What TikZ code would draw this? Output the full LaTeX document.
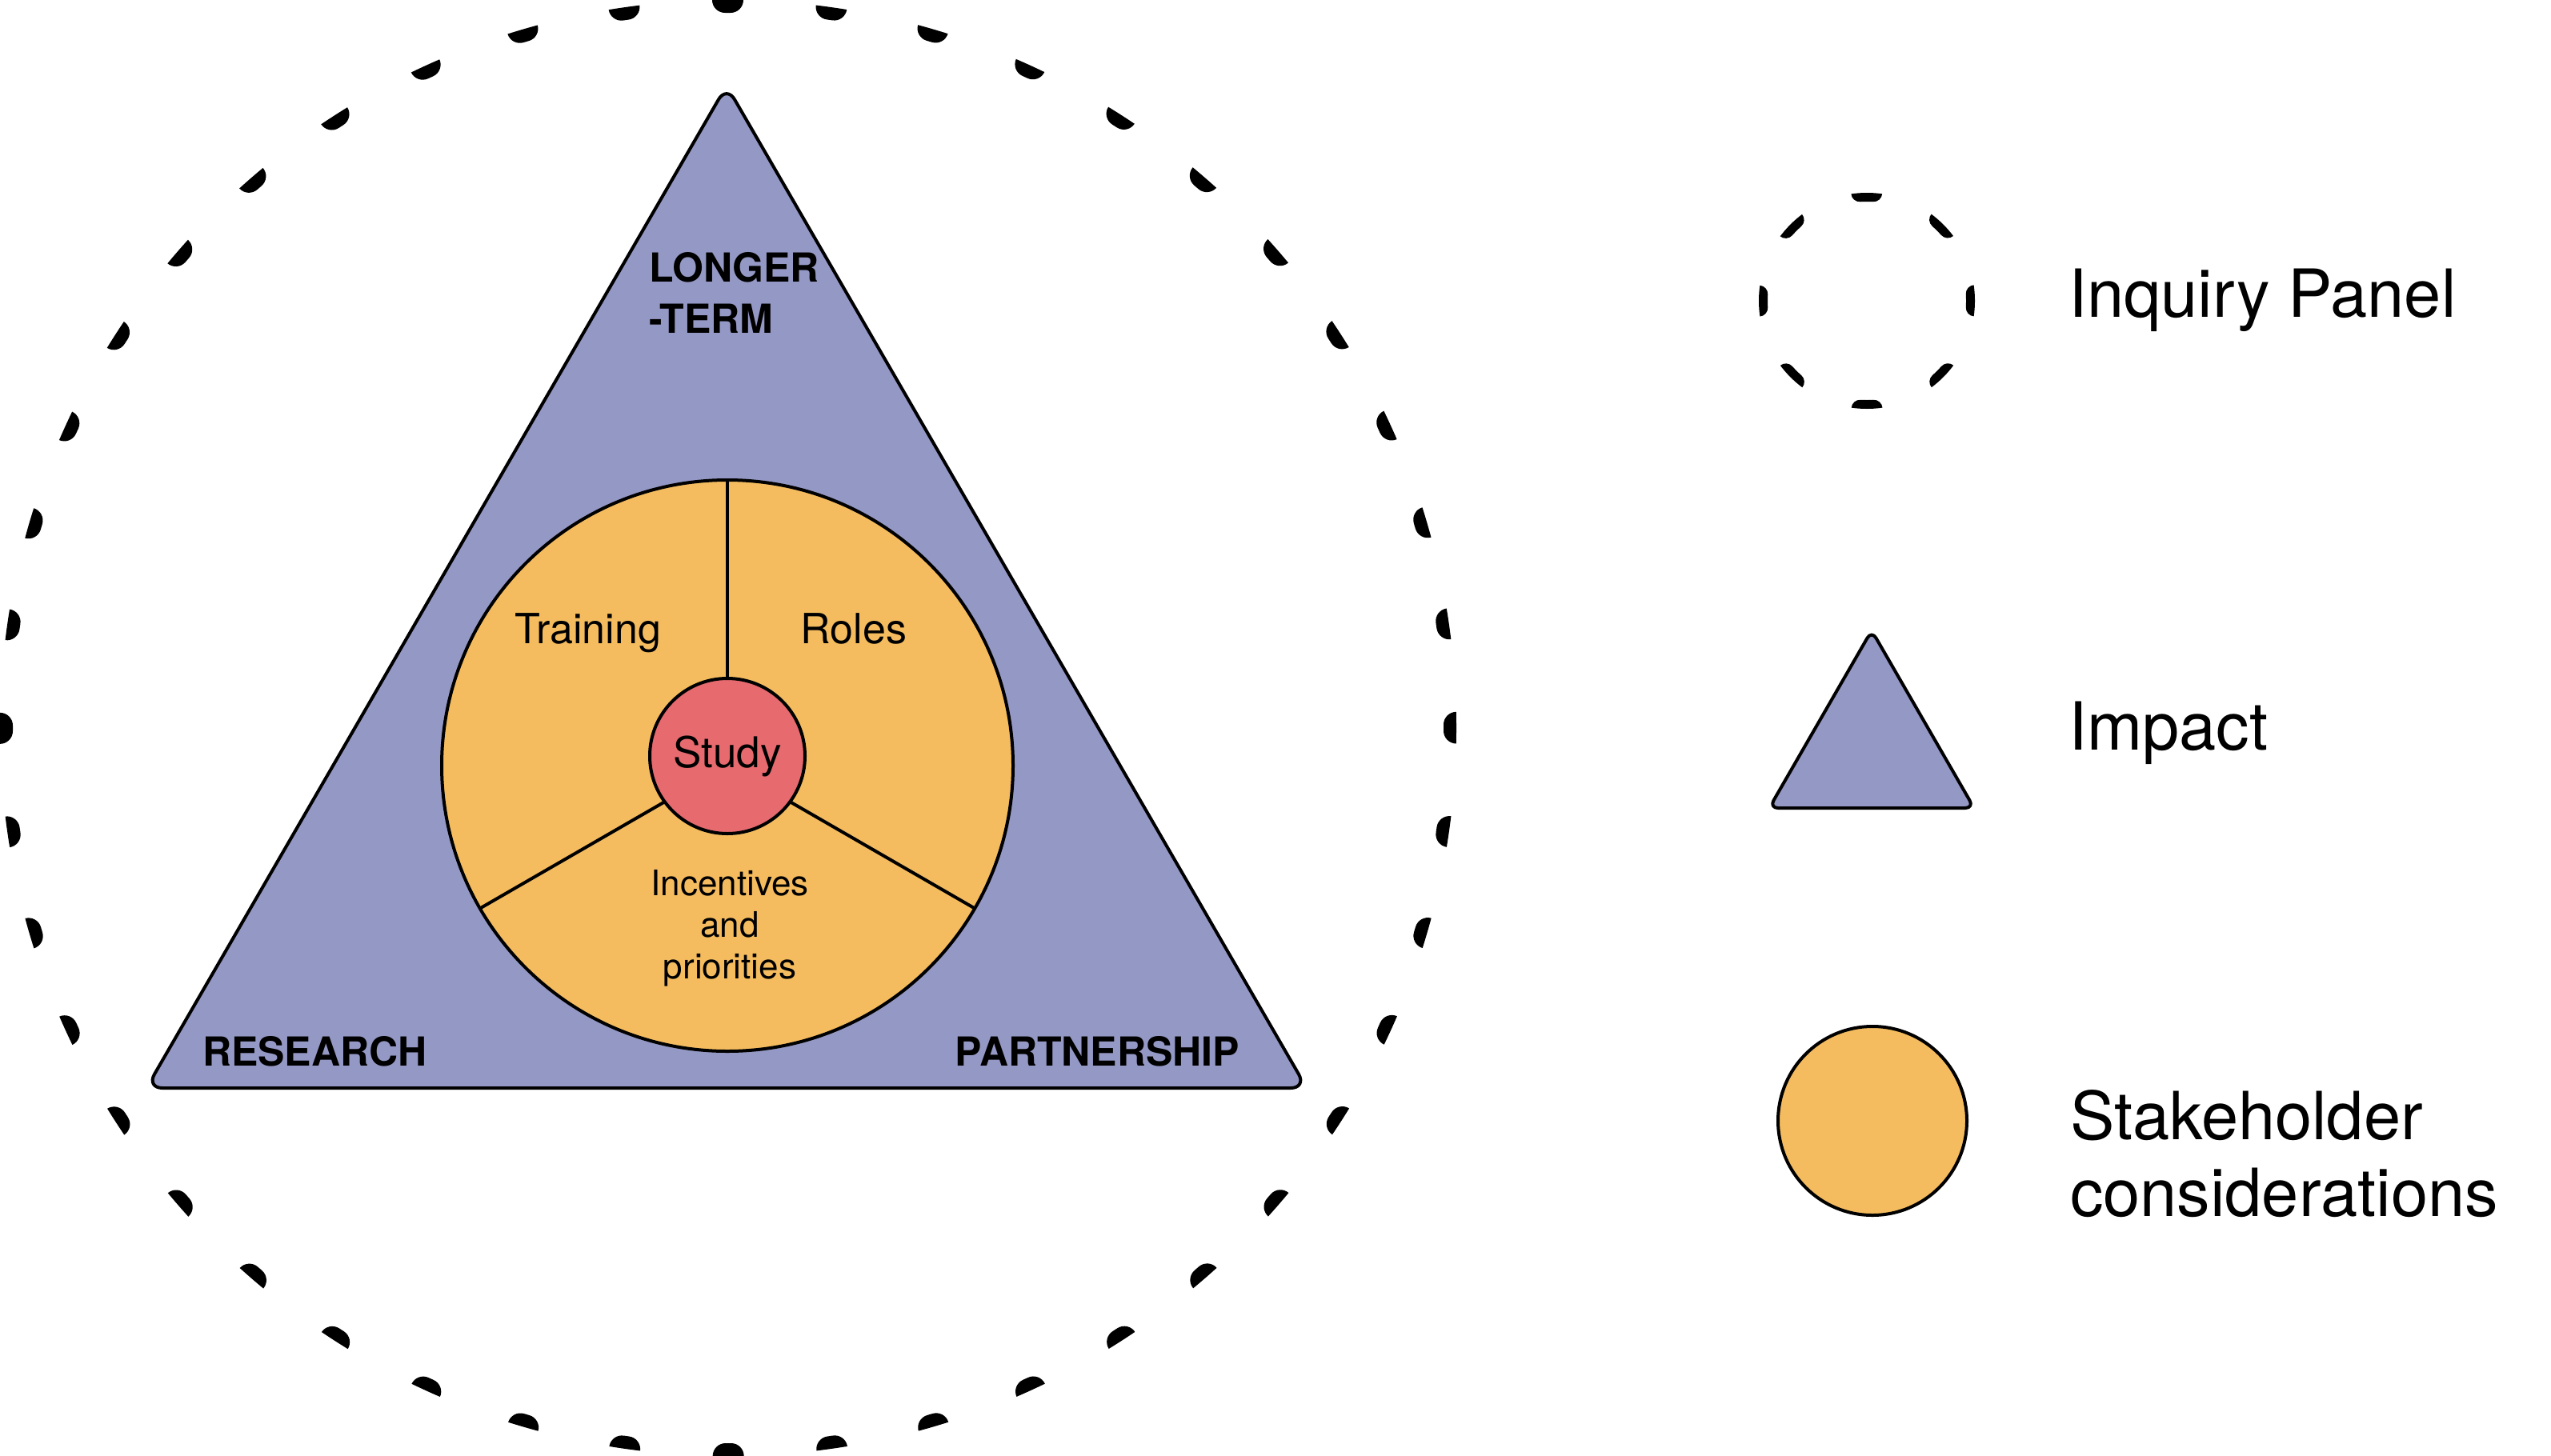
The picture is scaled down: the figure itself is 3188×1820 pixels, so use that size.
\documentclass[tikz,border=0pt]{standalone}
\usepackage{fontspec}
\setmainfont{TeX Gyre Heros}
\definecolor{impact}{HTML}{9498C4}
\definecolor{stake}{HTML}{F4BC5F}
\definecolor{studyc}{HTML}{E66A6E}
\newcommand\fsz[1]{\fontsize{#1pt}{#1pt}\selectfont}
\begin{document}
\begin{tikzpicture}[x=1pt,y=-1pt,
  outl/.style={draw=black, line width=4pt, line join=round},
  panelring/.style={draw=black, line width=32pt, line cap=round, dash pattern=on 7pt off 122.95pt, dash phase=3.5pt},
  legring/.style={draw=black, line width=22pt, line cap=round, dash pattern=on 17pt off 89pt, dash phase=8.5pt},
  divider/.style={draw=black, line width=4pt},
  lbl/.style={inner sep=0pt, outer sep=0pt, text=black},
  disc/.style={circle, outl, inner sep=0pt, outer sep=0pt}
]
\useasboundingbox (0,0) rectangle (3188,1820);
\fill[white] (0,0) rectangle (3188,1820);

% Inquiry panel ring (inside stroke)
\begin{scope}
  \clip (910,910) circle [radius=910];
  \draw[panelring] (910,910) circle [radius=910];
\end{scope}

% Impact triangle
\draw[outl, fill=impact, rounded corners=20pt] (908,107) -- (1633,1360) -- (183,1360) -- cycle;

% Stakeholder disc with dividers
\node[disc, fill=stake, minimum size=714pt] (stake) at (909,957) {};
\draw[divider] (stake.center) -- (stake.90);
\draw[divider] (stake.center) -- (stake.210);
\draw[divider] (stake.center) -- (stake.330);
\node[disc, fill=studyc, minimum size=194pt, font=\fsz{53}] (study) at (909,945) {Study};

% labels
\node[lbl, anchor=base west, font=\fsz{50}\bfseries] (longer) at (811,352) {LONGER};
\node[lbl, anchor=base west, font=\fsz{50}\bfseries] (term) at (811,416) {-TERM};
\node[lbl, anchor=base west, font=\fsz{50}\bfseries] (research) at (253,1332) {RESEARCH};
\node[lbl, anchor=base east, font=\fsz{50}\bfseries] (partner) at (1549,1332) {PARTNERSHIP};
\node[lbl, anchor=base west, font=\fsz{52}] (training) at (643,804) {Training};
\node[lbl, anchor=base, font=\fsz{52}] (roles) at (1067,804) {Roles};
\node[lbl, anchor=base, font=\fsz{44}] (inc1) at (912,1119) {Incentives};
\node[lbl, anchor=base, font=\fsz{44}] (inc2) at (912,1171) {and};
\node[lbl, anchor=base, font=\fsz{44}] (inc3) at (912,1223) {priorities};

% legend
\begin{scope}
  \clip (2333,376) circle [radius=135];
  \draw[legring] (2333,376) circle [radius=135];
\end{scope}
\draw[outl, fill=impact, rounded corners=11pt] (2339,788) -- (2467,1010) -- (2211,1010) -- cycle;
\node[disc, fill=stake, minimum size=236pt] (legstake) at (2340,1401) {};

\node[lbl, anchor=base west, font=\fsz{83}] (lpanel) at (2585,396) {Inquiry Panel};
\node[lbl, anchor=base west, font=\fsz{83}] (limpact) at (2585,937) {Impact};
\node[lbl, anchor=base west, font=\fsz{83}] (lstake1) at (2587,1424) {Stakeholder};
\node[lbl, anchor=base west, font=\fsz{83}] (lstake2) at (2587,1520) {considerations};
\end{tikzpicture}
\end{document}
